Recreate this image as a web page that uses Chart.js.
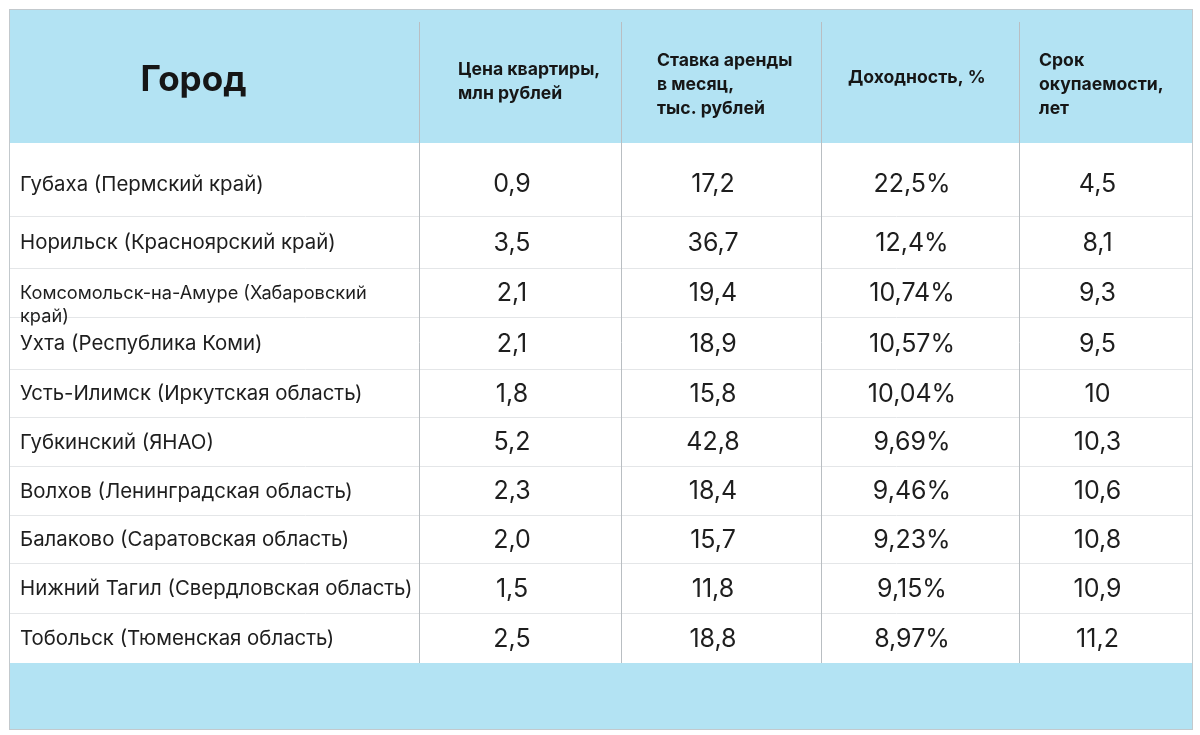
<!DOCTYPE html>
<html>
<head>
<meta charset="utf-8">
<script src="https://cdn.jsdelivr.net/npm/chart.js@4/dist/chart.umd.min.js"></script>
<style>
html,body{margin:0;padding:0;background:#ffffff;}
#wrap{width:1200px;height:735px;position:relative;}
canvas{display:block;}
</style>
</head>
<body>
<div id="wrap"><canvas id="c" width="1200" height="735"></canvas></div>
<script>
// ---- data ----
const headers = [
  ['Город'],
  ['Цена квартиры,', 'млн рублей'],
  ['Ставка аренды', 'в месяц,', 'тыс. рублей'],
  ['Доходность, %'],
  ['Срок', 'окупаемости,', 'лет']
];
const cities = [
  ['Губаха (Пермский край)'],
  ['Норильск (Красноярский край)'],
  ['Комсомольск-на-Амуре (Хабаровский', 'край)'],
  ['Ухта (Республика Коми)'],
  ['Усть-Илимск (Иркутская область)'],
  ['Губкинский (ЯНАО)'],
  ['Волхов (Ленинградская область)'],
  ['Балаково (Саратовская область)'],
  ['Нижний Тагил (Свердловская область)'],
  ['Тобольск (Тюменская область)']
];
const prices  = [0.9, 3.5, 2.1, 2.1, 1.8, 5.2, 2.3, 2.0, 1.5, 2.5];
const rents   = [17.2, 36.7, 19.4, 18.9, 15.8, 42.8, 18.4, 15.7, 11.8, 18.8];
const yields  = [22.5, 12.4, 10.74, 10.57, 10.04, 9.69, 9.46, 9.23, 9.15, 8.97];
const payback = [4.5, 8.1, 9.3, 9.5, 10, 10.3, 10.6, 10.8, 10.9, 11.2];

// ---- layout (styles, not data) ----
const colWidths  = [409, 202, 200, 198, 173];
const rowHeights = [73, 52, 49, 52, 48, 49, 49, 48, 50, 50];
const headerOffsetX = [null, 39, 36, 27, 20];
const BLUE = '#b3e3f3';
const FONT = 'Inter, "Noto Sans", sans-serif';

const cum = a => a.reduce((acc, v) => { acc.push(acc[acc.length - 1] + v); return acc; }, [0]);
const colEdges = cum(colWidths);
const rowEdges = cum(rowHeights);
const colCenter = c => (colEdges[c] + colEdges[c + 1]) / 2;
const rowCenter = r => (rowEdges[r] + rowEdges[r + 1]) / 2;

const comma = s => String(s).replace('.', ',');
const columns = [
  cities.map(c => c),
  prices.map(v => [comma(v.toFixed(1))]),
  rents.map(v => [comma(v.toFixed(1))]),
  yields.map(v => [comma(v) + '%']),
  payback.map(v => [comma(v)])
];

const datasets = columns.map((col, c) => ({
  label: 'col' + c,
  texts: col,
  data: col.map((_, r) => ({ x: c === 0 ? colEdges[0] : colCenter(c), y: rowCenter(r) })),
  pointRadius: 0,
  pointHoverRadius: 0,
  showLine: false
}));

const tablePlugin = {
  id: 'table',
  beforeDraw(chart) {
    const ctx = chart.ctx, a = chart.chartArea;
    const xs = chart.scales.x, ys = chart.scales.y;
    const top = 10, bottom = 729;
    ctx.save();
    ctx.fillStyle = '#ffffff';
    ctx.fillRect(0, 0, chart.width, chart.height);
    // header band
    ctx.fillStyle = BLUE;
    ctx.fillRect(a.left, top, a.right - a.left, a.top - top);
    // footer band
    ctx.fillRect(a.left, a.bottom, a.right - a.left, bottom - a.bottom);
    // horizontal row lines
    ctx.strokeStyle = '#e4e6e8';
    ctx.lineWidth = 1;
    for (let i = 1; i < rowEdges.length - 1; i++) {
      const y = Math.round(ys.getPixelForValue(rowEdges[i])) + 0.5;
      ctx.beginPath(); ctx.moveTo(a.left, y); ctx.lineTo(a.right, y); ctx.stroke();
    }
    // vertical column lines
    ctx.strokeStyle = '#b9bec2';
    for (let i = 1; i < colEdges.length - 1; i++) {
      const x = Math.round(xs.getPixelForValue(colEdges[i])) + 0.5;
      ctx.beginPath(); ctx.moveTo(x, 22); ctx.lineTo(x, a.bottom); ctx.stroke();
    }
    // outer border
    ctx.strokeStyle = '#c3c9cd';
    ctx.strokeRect(a.left - 0.5, top - 0.5, a.right - a.left + 1, bottom - top + 1);
    // header texts
    ctx.fillStyle = '#161616';
    ctx.textBaseline = 'middle';
    headers.forEach((lines, c) => {
      if (c === 0) {
        ctx.font = 'bold 35px ' + FONT;
        ctx.textAlign = 'center';
        ctx.fillText(lines[0], xs.getPixelForValue(colCenter(0)) - 21, 80);
      } else {
        ctx.font = 'bold 17.6px ' + FONT;
        ctx.textAlign = 'left';
        const x = xs.getPixelForValue(colEdges[c]) + headerOffsetX[c];
        const lh = 24;
        const y0 = lines.length === 1 ? 78 : (lines.length === 2 ? 70 : 61);
        lines.forEach((t, i) => ctx.fillText(t, x, y0 + i * lh));
      }
    });
    ctx.restore();
  },
  afterDatasetsDraw(chart) {
    const ctx = chart.ctx;
    ctx.save();
    ctx.fillStyle = '#1e1e1e';
    ctx.textBaseline = 'middle';
    chart.data.datasets.forEach((ds, c) => {
      const meta = chart.getDatasetMeta(c);
      meta.data.forEach((pt, r) => {
        const lines = ds.texts[r];
        const dy = r === 0 ? 5 : 1;
        if (c === 0) {
          ctx.font = (lines.length > 1 ? '18.2px ' : '20.4px ') + FONT;
          ctx.textAlign = 'left';
          lines.forEach((t, i) => ctx.fillText(t, pt.x + 10, pt.y + dy + i * 23));
        } else {
          ctx.font = '25px ' + FONT;
          ctx.textAlign = 'center';
          lines.forEach((t) => ctx.fillText(t, pt.x - 8, pt.y + dy));
        }
      });
    });
    ctx.restore();
  }
};

new Chart(document.getElementById('c'), {
  type: 'scatter',
  data: { datasets },
  options: {
    responsive: false,
    animation: false,
    events: [],
    layout: { padding: { left: 10, right: 8, top: 143, bottom: 72 } },
    plugins: { legend: { display: false }, tooltip: { enabled: false } },
    scales: {
      x: { type: 'linear', display: false, min: 0, max: colEdges[colEdges.length - 1] },
      y: { type: 'linear', display: false, reverse: true, min: 0, max: rowEdges[rowEdges.length - 1] }
    }
  },
  plugins: [tablePlugin]
});
</script>
</body>
</html>
